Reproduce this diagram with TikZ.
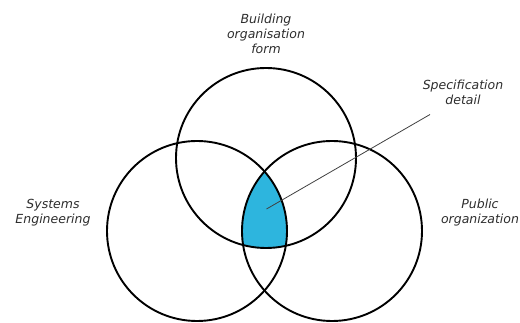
\documentclass[tikz,border=0pt]{standalone}
\usepackage{fontspec}
\setmainfont{DejaVu Sans}
\begin{document}
\begin{tikzpicture}[x=1pt,y=-1pt,
  ring/.style={draw=black,line width=1.9pt},
  lbl/.style={align=center,text=black!82,font=\fontsize{12.5}{15}\selectfont\itshape,inner sep=0pt},
  pointer/.style={draw=black!75,line width=0.8pt}]
\useasboundingbox (0,0) rectangle (520,323);
\coordinate (ct) at (266,158);
\coordinate (cl) at (197,231);
\coordinate (cr) at (332,231);
\begin{scope}
  \clip (ct) circle (90);
  \clip (cl) circle (90);
  \fill[fill={rgb,255:red,45;green,181;blue,222}] (cr) circle (90);
\end{scope}
\draw[ring] (ct) circle (90);
\draw[ring] (cl) circle (90);
\draw[ring] (cr) circle (90);
\node[lbl] (top) at (266,34) {Building\\organisation\\form};
\node[lbl] (spec) at (463,92) {Specification\\detail};
\node[lbl] (sys) at (53,212.5) {Systems\\Engineering};
\node[lbl] (pub) at (480,212.5) {Public\\organization};
\coordinate (pstart) at (266.5,209);
\coordinate (pend) at (430,114.5);
\draw[pointer] (pstart) -- (pend);
\end{tikzpicture}
\end{document}
